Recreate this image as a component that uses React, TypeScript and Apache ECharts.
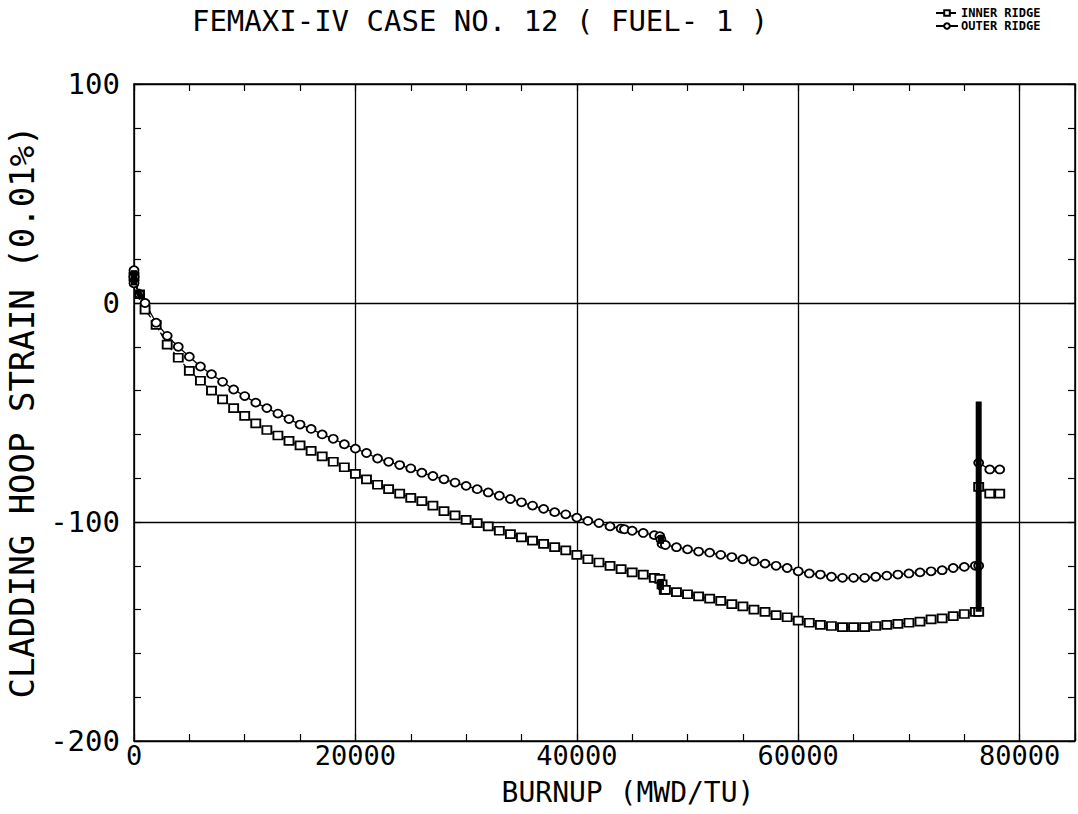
import React, { useEffect, useRef } from "react";
import * as echarts from "echarts";

const TITLE = "FEMAXI-IV CASE NO. 12 ( FUEL- 1 )";
const X_NAME = "BURNUP (MWD/TU)";
const Y_NAME = "CLADDING HOOP STRAIN (0.01%)";
const X_LABELS = [0, 20000, 40000, 60000, 80000];
const Y_LABELS = [-200, -100, 0, 100];

// OUTER RIDGE (circles, solid line) : [burnup MWD/TU, strain 0.01%]
const OUTER_RIDGE: [number, number][] = [
  [0, 15], [0, 12], [0, 9], [500, 4], [1000, 0], [2000, -9], [3000, -15], [4000, -20],
  [5000, -24.5], [6000, -29], [7000, -32.5], [8000, -36], [9000, -39.5], [10000, -42.5],
  [11000, -45.5], [12000, -48], [13000, -50.5], [14000, -53], [15000, -55.5], [16000, -57.5],
  [17000, -60], [18000, -62], [19000, -64.5], [20000, -66.5], [21000, -68.5], [22000, -71],
  [23000, -72.5], [24000, -74], [25000, -75.5], [26000, -77.5], [27000, -79], [28000, -80.5],
  [29000, -82], [30000, -83.5], [31000, -85], [32000, -86.5], [33000, -88], [34000, -89.5],
  [35000, -91], [36000, -92.5], [37000, -94], [38000, -95.5], [39000, -96.5], [40000, -98],
  [41000, -99.5], [42000, -100.5], [43000, -102], [44000, -103], [44300, -103.3], [45000, -104],
  [46000, -105], [47000, -106], [47500, -106.5], [47600, -108], [47700, -110], [48000, -110.5],
  [49000, -111.5], [50000, -112.5], [51000, -113.5], [52000, -114], [53000, -115], [54000, -116],
  [55000, -117], [56000, -118], [57000, -119], [58000, -120], [59000, -121], [60000, -122.5],
  [61000, -123.5], [62000, -124], [63000, -125], [64000, -125.5], [65000, -125.5], [66000, -125.5],
  [67000, -125], [68000, -124.5], [69000, -124], [70000, -123.5], [71000, -123], [72000, -122.5],
  [73000, -122], [74000, -121], [75000, -120.5], [76000, -120], [76300, -120], [76300, -73],
  [77300, -76], [78200, -76],
];

// INNER RIDGE (squares, dashed line)
const INNER_RIDGE: [number, number][] = [
  [0, 12], [500, 4], [1000, -3], [2000, -10], [3000, -19], [4000, -25], [5000, -31],
  [6000, -35.5], [7000, -40], [8000, -44], [9000, -48], [10000, -51.5], [11000, -55],
  [12000, -58], [13000, -60.5], [14000, -63], [15000, -65], [16000, -67.5], [17000, -70],
  [18000, -72.5], [19000, -75], [20000, -78], [21000, -80.5], [22000, -83], [23000, -85],
  [24000, -87], [25000, -89], [26000, -90.5], [27000, -92.5], [28000, -95], [29000, -97],
  [30000, -99], [31000, -100.5], [32000, -102], [33000, -104], [34000, -105.5], [35000, -107],
  [36000, -108.5], [37000, -110], [38000, -111.5], [39000, -113], [40000, -115], [41000, -117],
  [42000, -118.5], [43000, -120], [44000, -121.5], [45000, -123], [46000, -124], [47000, -125.5],
  [47500, -126], [47700, -128.5], [47900, -131], [48000, -131], [49000, -132], [50000, -133],
  [51000, -134], [52000, -135], [53000, -136], [54000, -137.5], [55000, -138.5], [56000, -140],
  [57000, -141], [58000, -142.5], [59000, -143.5], [60000, -145], [61000, -146], [62000, -147],
  [63000, -147.5], [64000, -148], [65000, -148], [66000, -148], [67000, -147.5], [68000, -147],
  [69000, -146.5], [70000, -146], [71000, -145.5], [72000, -144.5], [73000, -144], [74000, -143],
  [75000, -142], [76000, -141], [76300, -141], [76300, -84], [77300, -87], [78200, -87],
];

// dense overlapping-marker blocks drawn as heavy strokes
const HEAVY_BLOCKS: [number, number][][] = [
  [[0, 15], [0, 8]],
  [[300, 6], [700, 2]],
  [[47600, -106], [47600, -110]],
  [[47600, -126], [47600, -131]],
  [[76300, -141], [76300, -45]],
];

const FONT = '"DejaVu Sans Mono", monospace';
const INK = "#000";

export default function App() {
  const ref = useRef<HTMLDivElement>(null);
  useEffect(() => {
    if (!ref.current) return;
    const chart = echarts.init(ref.current, null, { renderer: "svg" });
    const noLine = { show: false };
    const baseX = { type: "value", min: 0, max: 85000, gridIndex: 0 };
    const baseY = { type: "value", min: -200, max: 100, gridIndex: 0 };
    const option: any = {
      animation: false,
      backgroundColor: "#fff",
      graphic: [
        {
          type: "text", x: 480, y: 21,
          style: { text: TITLE, fontFamily: FONT, fontSize: 29, lineHeight: 26, fill: INK, align: "center", verticalAlign: "middle" },
        },
        {
          type: "text", x: 22, y: 412, rotation: Math.PI / 2,
          style: { text: Y_NAME, fontFamily: FONT, fontSize: 34, lineHeight: 30, fill: INK, align: "center", verticalAlign: "middle" },
        },
        {
          type: "text", x: 628, y: 792,
          style: { text: X_NAME, fontFamily: FONT, fontSize: 28, lineHeight: 24, fill: INK, align: "center", verticalAlign: "middle" },
        },
      ],
      legend: {
        data: ["INNER RIDGE", "OUTER RIDGE"],
        orient: "vertical",
        left: 930, top: 2,
        itemGap: 1, itemWidth: 22, itemHeight: 7,
        textStyle: { fontFamily: FONT, fontSize: 12, fontWeight: "bold", color: INK, padding: [0, 0, 0, -2] },
      },
      grid: { left: 134, right: 2, top: 84, bottom: 73, containLabel: false },
      xAxis: [
        {
          ...baseX, position: "bottom", interval: 5000,
          axisLine: { show: true, onZero: false, lineStyle: { color: INK, width: 1.5 } },
          axisTick: { show: true, inside: true, length: 7, lineStyle: { color: INK, width: 1.2 } },
          axisLabel: {
            show: true, margin: 2, fontFamily: FONT, fontSize: 27, lineHeight: 24, color: INK,
            formatter: (v: number) => (X_LABELS.includes(v) ? String(v) : ""),
          },
          splitLine: noLine,
        },
        {
          ...baseX, position: "bottom", interval: 20000,
          axisLine: { show: false, onZero: false }, axisTick: noLine, axisLabel: noLine,
          splitLine: { show: true, lineStyle: { color: INK, width: 1.3 } },
        },
        {
          ...baseX, position: "top", interval: 5000,
          axisLine: { show: true, onZero: false, lineStyle: { color: INK, width: 1.5 } },
          axisTick: { show: true, inside: true, length: 7, lineStyle: { color: INK, width: 1.2 } },
          axisLabel: noLine, splitLine: noLine,
        },
      ],
      yAxis: [
        {
          ...baseY, position: "left", interval: 20,
          axisLine: { show: true, onZero: false, lineStyle: { color: INK, width: 1.5 } },
          axisTick: { show: true, inside: true, length: 7, lineStyle: { color: INK, width: 1.2 } },
          axisLabel: {
            show: true, margin: 14, fontFamily: FONT, fontSize: 29, lineHeight: 26, color: INK,
            formatter: (v: number) => (Y_LABELS.includes(v) ? String(v) : ""),
          },
          splitLine: noLine,
        },
        {
          ...baseY, position: "left", interval: 100,
          axisLine: { show: false, onZero: false }, axisTick: noLine, axisLabel: noLine,
          splitLine: { show: true, lineStyle: { color: INK, width: 1.3 } },
        },
        {
          ...baseY, position: "right", interval: 20,
          axisLine: { show: true, onZero: false, lineStyle: { color: INK, width: 1.5 } },
          axisTick: { show: true, inside: true, length: 7, lineStyle: { color: INK, width: 1.2 } },
          axisLabel: noLine, splitLine: noLine,
        },
      ],
      series: [
        {
          name: "INNER RIDGE", type: "line", xAxisIndex: 0, yAxisIndex: 0,
          data: INNER_RIDGE, symbol: "rect", symbolSize: [9, 8], showAllSymbol: true,
          itemStyle: { color: "#fff", borderColor: INK, borderWidth: 1.8 },
          lineStyle: { color: INK, width: 1.3, type: "dashed" },
          z: 3,
        },
        {
          name: "OUTER RIDGE", type: "line", xAxisIndex: 0, yAxisIndex: 0,
          data: OUTER_RIDGE, symbol: "circle", symbolSize: [9, 8], showAllSymbol: true,
          itemStyle: { color: "#fff", borderColor: INK, borderWidth: 1.8 },
          lineStyle: { color: INK, width: 1.3, type: "solid" },
          z: 3,
        },
        ...HEAVY_BLOCKS.map((seg, i) => ({
          name: "block" + i, type: "line", xAxisIndex: 0, yAxisIndex: 0,
          data: seg, symbol: "none", silent: true,
          lineStyle: { color: INK, width: 6 },
          z: 4,
        })),
      ],
    };
    chart.setOption(option);
    return () => chart.dispose();
  }, []);
  return (
    <div
      ref={ref}
      style={{ position: "fixed", left: 0, top: 0, width: 1078, height: 814, background: "#fff" }}
    />
  );
}
